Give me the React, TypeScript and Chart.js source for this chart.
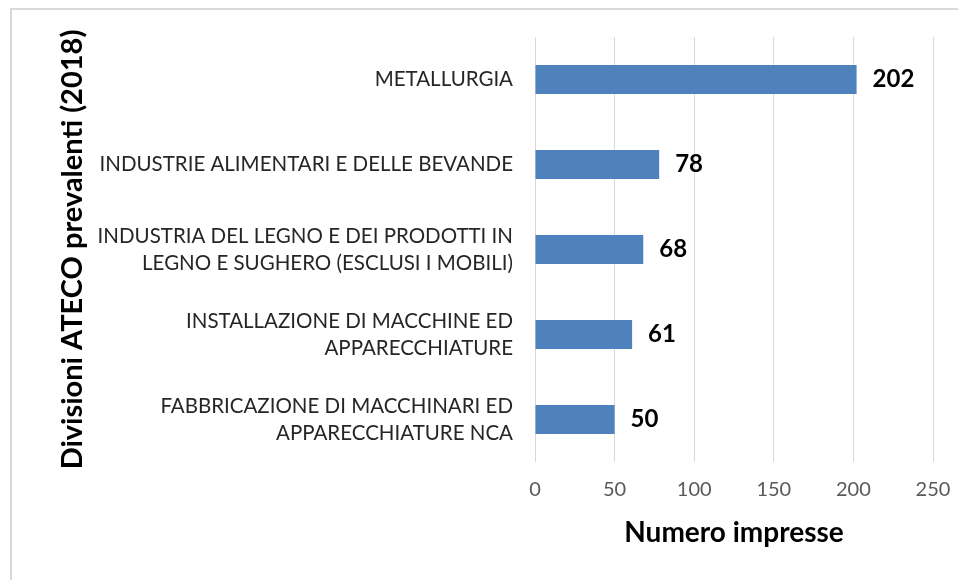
import React, { useEffect, useRef } from "react";
import { Chart, registerables } from "chart.js";

Chart.register(...registerables);

const categories: (string | string[])[] = [
  "METALLURGIA",
  "INDUSTRIE ALIMENTARI E DELLE BEVANDE",
  ["INDUSTRIA DEL LEGNO E DEI PRODOTTI IN", "LEGNO E SUGHERO (ESCLUSI I MOBILI)"],
  ["INSTALLAZIONE DI MACCHINE ED", "APPARECCHIATURE"],
  ["FABBRICAZIONE DI MACCHINARI ED", "APPARECCHIATURE NCA"],
];
const values: number[] = [202, 78, 68, 61, 50];
const xTicks: number[] = [0, 50, 100, 150, 200, 250];
const xTitle = "Numero impresse";
const yTitle = "Divisioni ATECO prevalenti (2018)";

const FONT = "Lato, 'Open Sans', sans-serif";

const valueLabels = {
  id: "valueLabels",
  afterDatasetsDraw(chart: any) {
    const ctx = chart.ctx;
    const meta = chart.getDatasetMeta(0);
    ctx.save();
    ctx.font = `bold 24px ${FONT}`;
    ctx.fillStyle = "#000000";
    ctx.textAlign = "left";
    ctx.textBaseline = "middle";
    meta.data.forEach((bar: any, i: number) => {
      ctx.fillText(String(values[i]), bar.x + 16, bar.y);
    });
    ctx.restore();
  },
};

export default function App() {
  const ref = useRef<HTMLCanvasElement | null>(null);
  useEffect(() => {
    document.body.style.margin = "0";
    if (!ref.current) return;
    const chart = new Chart(ref.current, {
      type: "bar",
      data: {
        labels: categories,
        datasets: [
          {
            data: values,
            backgroundColor: "#4f81bd",
            borderColor: "#4f81bd",
            borderWidth: 0,
            categoryPercentage: 1,
            barPercentage: 0.34,
          },
        ],
      },
      options: {
        indexAxis: "y",
        responsive: false,
        animation: false,
        layout: { padding: { top: 37, right: 25, bottom: 0, left: 0 } },
        plugins: {
          legend: { display: false },
          tooltip: { enabled: false },
        },
        scales: {
          x: {
            min: 0,
            max: 250,
            afterBuildTicks: (scale: any) => {
              scale.ticks = xTicks.map((v) => ({ value: v }));
            },
            afterFit: (scale: any) => {
              scale.height = 118;
              scale.paddingLeft = 0;
              scale.paddingRight = 0;
            },
            grid: { color: "#d9d9d9", drawTicks: false, lineWidth: 1 },
            border: { display: false },
            ticks: {
              padding: 16,
              color: "#595959",
              font: { family: FONT, size: 20 },
            },
            title: {
              display: true,
              text: xTitle,
              color: "#000000",
              font: { family: FONT, size: 28, weight: "bold" },
              padding: { top: 0, bottom: 30 },
            },
          },
          y: {
            afterFit: (scale: any) => {
              scale.width = 535;
              scale.paddingTop = 0;
              scale.paddingBottom = 0;
            },
            grid: { display: false, drawTicks: false },
            border: { display: false },
            ticks: {
              padding: 22,
              color: "#262626",
              font: { family: FONT, size: 20.5, lineHeight: 1.32 },
            },
            title: {
              display: true,
              text: yTitle,
              color: "#000000",
              font: { family: FONT, size: 29, weight: "bold" },
              padding: { top: 55, bottom: 0 },
            },
          },
        },
      },
      plugins: [valueLabels],
    });
    return () => chart.destroy();
  }, []);
  return (
    <div style={{ position: "relative", width: 958, height: 580, background: "#ffffff", overflow: "hidden" }}>
      <div
        style={{
          position: "absolute",
          left: 10,
          top: 8,
          width: 960,
          height: 590,
          borderLeft: "2px solid #d9d9d9",
          borderTop: "2px solid #d9d9d9",
        }}
      />
      <canvas ref={ref} width={958} height={580} style={{ position: "absolute", left: 0, top: 0 }} />
    </div>
  );
}
